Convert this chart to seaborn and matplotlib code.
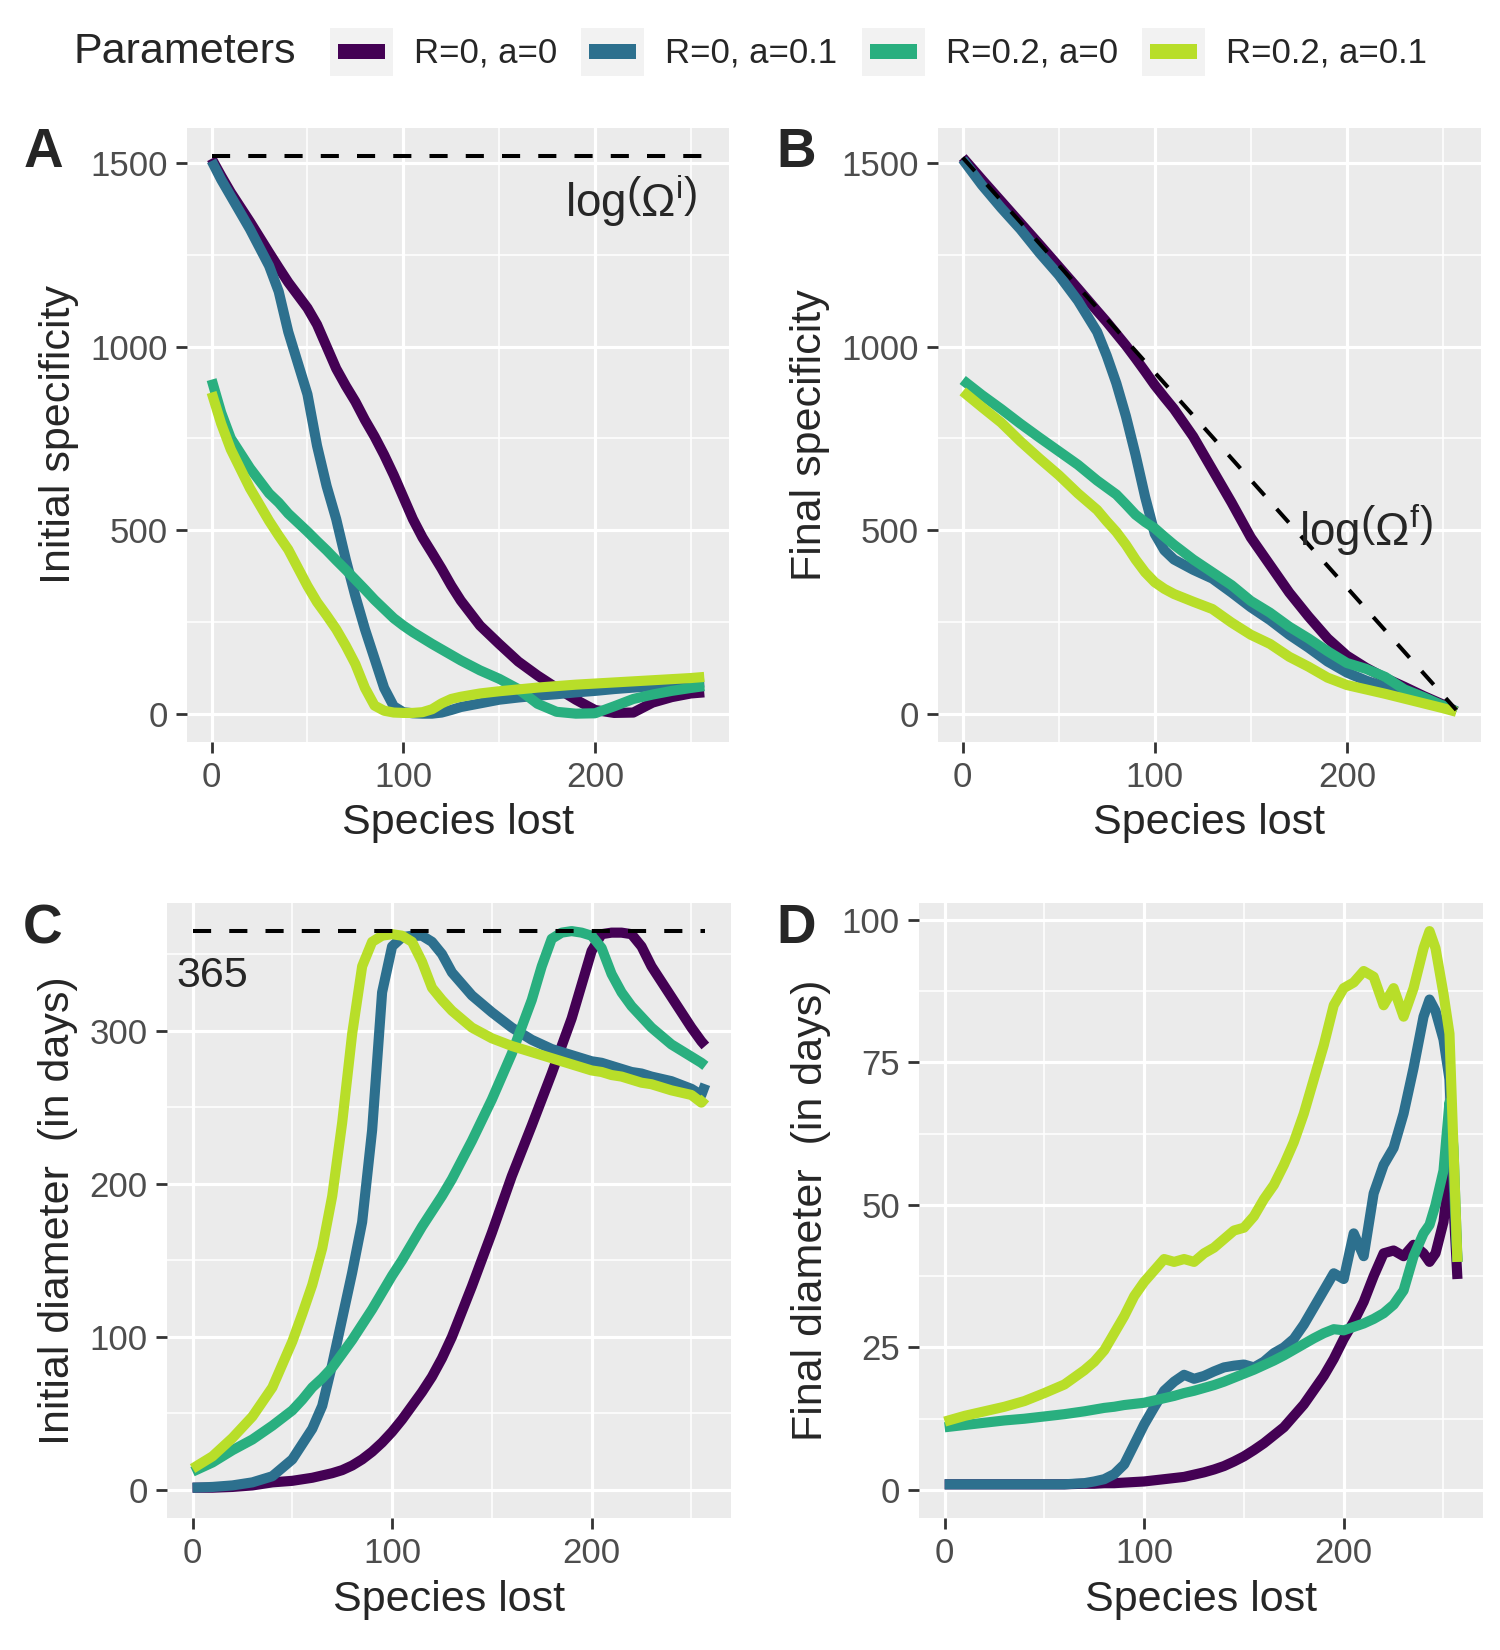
import matplotlib
matplotlib.use("Agg")
import pandas as pd
import seaborn as sns
import matplotlib.pyplot as plt
from matplotlib.lines import Line2D
from matplotlib.patches import Rectangle
from matplotlib.legend_handler import HandlerBase

labels = ["R=0, a=0", "R=0, a=0.1", "R=0.2, a=0", "R=0.2, a=0.1"]
colors = ["#440154", "#2D708E", "#29AF7F", "#B8DE29"]

# panel A - initial specificity
x_a = [0, 5, 10, 20, 30, 35, 40, 50, 55, 60, 65, 70, 75, 80, 85, 90, 95,
       100, 105, 110, 115, 120, 125, 130, 140, 150, 160, 170, 180, 190,
       200, 210, 220, 230, 240, 250, 257]
a_r0_a0 = [1512, 1465, 1420, 1340, 1256, 1215, 1175, 1105, 1060, 1000, 940, 893, 850, 800, 755, 705, 650,
           590, 530, 480, 438, 395, 349, 308, 240, 190, 142, 104, 70, 38,
           10, 2, 3, 30, 45, 55, 58]
a_r0_a01 = [1506, 1455, 1410, 1320, 1220, 1150, 1040, 870, 730, 620, 530, 420, 320, 230, 150, 70, 20,
            4, 1, 0, 0, 3, 10, 18, 28, 38, 44, 49, 53, 58,
            62, 67, 71, 75, 79, 83, 85]
a_r02_a0 = [910, 820, 750, 669, 600, 575, 545, 496, 470, 445, 418, 392, 365, 338, 310, 285, 260,
            240, 222, 206, 190, 175, 160, 145, 118, 95, 67, 27, 5, 0,
            1, 20, 40, 52, 62, 70, 75]
a_r02_a01 = [875, 790, 720, 614, 525, 485, 447, 348, 304, 268, 230, 185, 135, 70, 22, 8, 3,
             2, 2, 4, 12, 28, 40, 46, 55, 61, 66, 71, 75, 79,
             82, 85, 88, 91, 94, 97, 100]
a_ref_x = [0, 257]
a_ref_y = [1520, 1520]

# panel B - final specificity
x_b = [0, 10, 20, 30, 40, 50, 60, 70, 75, 80, 85, 90, 95, 100, 105, 110,
       120, 130, 140, 150, 160, 170, 180, 190, 200, 210, 220, 230, 240, 250, 257]
b_r0_a0 = [1515, 1455, 1396, 1337, 1278, 1218, 1158, 1097, 1067, 1035, 1003, 968, 932, 895, 862, 830,
           755, 665, 575, 480, 405, 330, 265, 205, 158, 125, 97, 73, 48, 25, 6]
b_r0_a01 = [1510, 1440, 1378, 1320, 1255, 1195, 1125, 1040, 975, 900, 810, 705, 590, 490, 445, 420,
            392, 368, 330, 290, 255, 215, 180, 142, 112, 90, 72, 55, 38, 22, 6]
b_r02_a0 = [909, 868, 830, 790, 752, 715, 678, 635, 616, 597, 570, 542, 522, 505, 482, 460,
            420, 385, 350, 307, 275, 237, 205, 170, 138, 122, 100, 66, 45, 22, 6]
b_r02_a01 = [878, 835, 793, 742, 695, 650, 600, 555, 524, 495, 460, 420, 385, 358, 340, 326,
             305, 285, 248, 215, 190, 155, 128, 98, 78, 66, 54, 41, 28, 15, 5]
b_ref_x = [0, 257]
b_ref_y = [1515, 10]

# panel C - initial diameter
x_c = [0, 10, 20, 30, 40, 50, 55, 60, 65, 70, 75, 80, 85, 90, 95,
       100, 105, 110, 115, 120, 125, 130, 140, 150, 160, 170,
       175, 180, 185, 190, 195, 200, 205, 210, 215, 220, 225, 230, 240, 250, 255, 257]
c_r0_a0 = [1.5, 1.5, 2, 3, 5, 6, 7, 8, 9.5, 11, 13, 16, 20, 25, 31,
           38, 46, 55, 64, 74, 86, 100, 133, 168, 205, 238,
           255, 272, 290, 308, 330, 352, 363, 364, 364, 363, 355, 342, 322, 302, 293, 290]
c_r0_a01 = [1.5, 2, 3, 5, 9, 20, 30, 40, 55, 82, 112, 142, 175, 235, 325,
            355, 361, 362, 362, 358, 350, 338, 323, 312, 302, 294,
            291, 288, 286, 284, 282, 280, 279, 277, 275, 273, 272, 270, 267, 262, 258, 265]
c_r02_a0 = [12, 18, 26, 33, 42, 52, 59, 67, 73, 80, 89, 98, 108, 118, 129,
            140, 150, 161, 172, 182, 192, 203, 228, 255, 285, 320,
            342, 360, 364, 365, 364, 362, 354, 337, 325, 316, 309, 302, 291, 283, 279, 277]
c_r02_a01 = [14, 22, 34, 48, 67, 97, 115, 134, 158, 192, 240, 298, 342, 358, 362,
             363, 362, 358, 345, 328, 320, 313, 302, 295, 290, 286,
             284, 282, 280, 278, 276, 274, 273, 271, 270, 268, 266, 265, 261, 258, 253, 256]
c_ref_x = [0, 257]
c_ref_y = [365, 365]

# panel D - final diameter
x_d = [0, 10, 20, 30, 40, 50, 60, 70, 75, 80, 85, 90, 95, 100,
       105, 110, 115, 120, 125, 130, 135, 140, 145, 150, 155, 160, 165, 170, 175, 180,
       185, 190, 195, 200, 205, 210, 215, 220, 225, 230, 235, 240,
       243, 246, 250, 253, 255, 257]
d_r0_a0 = [1, 1, 1, 1, 1, 1, 1, 1.1, 1.1, 1.2, 1.2, 1.3, 1.4, 1.5,
           1.7, 1.9, 2.1, 2.3, 2.7, 3.1, 3.6, 4.2, 5, 5.9, 7, 8.2, 9.6, 11, 13, 15,
           17.5, 20, 23, 26.5, 29.5, 33, 37.5, 41.5, 42, 41, 43, 41.5,
           40, 41.5, 47, 56, 50, 37]
d_r0_a01 = [1, 1, 1, 1, 1, 1, 1, 1.2, 1.5, 1.9, 2.8, 4.5, 8, 11.5,
            14.5, 17.4, 19, 20.2, 19.5, 20, 20.8, 21.5, 21.8, 22, 21.5, 22.5, 24, 25, 26.5, 29,
            32, 35, 38, 37, 45, 41, 52, 57, 60, 66, 74, 83,
            86, 84, 79, 72, 55, 40]
d_r02_a0 = [11, 11.4, 11.8, 12.2, 12.5, 12.9, 13.3, 13.8, 14.1, 14.4, 14.6, 14.9, 15.1, 15.3,
            15.7, 16.1, 16.5, 17, 17.4, 17.9, 18.4, 19, 19.7, 20.4, 21.1, 21.9, 22.7, 23.6, 24.6, 25.6,
            26.6, 27.5, 28.2, 28, 28.6, 29.2, 30, 31, 32.5, 35, 41, 45,
            46.5, 50, 56, 68, 60, 40]
d_r02_a01 = [12, 13, 13.8, 14.6, 15.6, 17, 18.5, 21, 22.5, 24.5, 27.5, 30.5, 34, 36.5,
             38.5, 40.5, 40, 40.5, 40, 41.5, 42.5, 44, 45.5, 46, 48, 51, 53.5, 57, 61, 66,
             72, 78, 85, 88, 89, 91, 90, 85, 88, 83, 88, 95,
             98, 95, 87, 80, 60, 40]


def long_df(x, values):
    parts = []
    for lab, vals in zip(labels, values):
        parts.append(pd.DataFrame({"lost": x, "value": vals, "Parameters": lab}))
    return pd.concat(parts, ignore_index=True)


df_a = long_df(x_a, [a_r0_a0, a_r0_a01, a_r02_a0, a_r02_a01])
df_b = long_df(x_b, [b_r0_a0, b_r0_a01, b_r02_a0, b_r02_a01])
df_c = long_df(x_c, [c_r0_a0, c_r0_a01, c_r02_a0, c_r02_a01])
df_d = long_df(x_d, [d_r0_a0, d_r0_a01, d_r02_a0, d_r02_a01])

sns.set_theme(style="darkgrid", rc={
    "axes.facecolor": "#EBEBEB",
    "grid.color": "white",
    "axes.edgecolor": "none",
})
plt.rcParams["font.family"] = ["Liberation Sans", "DejaVu Sans"]
plt.rcParams["mathtext.fontset"] = "custom"
plt.rcParams["mathtext.rm"] = "Liberation Sans"
plt.rcParams["mathtext.it"] = "Liberation Sans:italic"

palette = dict(zip(labels, colors))

fig = plt.figure(figsize=(15, 16.5), dpi=100)
W, H = 1420, 1562
ax_a = fig.add_axes([177 / W, 1 - 702 / H, 513 / W, 581 / H])
ax_b = fig.add_axes([888 / W, 1 - 702 / H, 514 / W, 581 / H])
ax_c = fig.add_axes([158 / W, 1 - 1437 / H, 534 / W, 582 / H])
ax_d = fig.add_axes([870 / W, 1 - 1437 / H, 534 / W, 582 / H])

panels = [
    (ax_a, df_a, "Initial specificity", (-76, 1596), [0, 500, 1000, 1500], [250, 750, 1250]),
    (ax_b, df_b, "Final specificity", (-76, 1596), [0, 500, 1000, 1500], [250, 750, 1250]),
    (ax_c, df_c, "Initial diameter  (in days)", (-18.25, 383.25), [0, 100, 200, 300], [50, 150, 250, 350]),
    (ax_d, df_d, "Final diameter  (in days)", (-4.9, 102.9), [0, 25, 50, 75, 100], [12.5, 37.5, 62.5, 87.5]),
]

for ax, df, ylab, ylim, yt, ytm in panels:
    sns.lineplot(data=df, x="lost", y="value", hue="Parameters", hue_order=labels,
                 palette=palette, estimator=None, errorbar=None, sort=False,
                 linewidth=7.3, legend=False, ax=ax,
                 solid_capstyle="butt", solid_joinstyle="round")
    ax.set_xlim(-12.85, 269.85)
    ax.set_ylim(*ylim)
    ax.set_xticks([0, 100, 200])
    ax.set_xticks([50, 150, 250], minor=True)
    ax.set_yticks(yt)
    ax.set_yticks(ytm, minor=True)
    ax.grid(which="major", color="white", linewidth=2.3)
    ax.grid(which="minor", color="white", linewidth=1.1)
    ax.set_axisbelow(True)
    ax.tick_params(which="major", length=7.8, width=2, color="#333333",
                   labelsize=25, labelcolor="#4D4D4D", pad=6, left=True, bottom=True)
    ax.tick_params(which="minor", length=0)
    ax.set_xlabel("Species lost", fontsize=31, labelpad=7)
    ax.set_ylabel(ylab, fontsize=31, labelpad=8)
    for s in ax.spines.values():
        s.set_visible(False)

dash = dict(color="black", linewidth=2.9, dashes=(4.5, 4.5), zorder=5)
ax_a.plot(a_ref_x, a_ref_y, **dash)
ax_b.plot(b_ref_x, b_ref_y, **dash)
ax_c.plot(c_ref_x, c_ref_y, **dash)

ax_a.text(219, 1395, r"$\mathrm{log}\left(\Omega^{\mathrm{i}}\right)$", fontsize=33,
          ha="center", va="center", zorder=6)
ax_b.text(210, 500, r"$\mathrm{log}\left(\Omega^{\mathrm{f}}\right)$", fontsize=33,
          ha="center", va="center", zorder=6)
ax_c.text(10, 336, "365", fontsize=31, ha="center", va="center", zorder=6)

for lab, x, y in [("A", 22, 120), ("B", 735, 120), ("C", 22, 855), ("D", 735, 855)]:
    fig.text(x / W, 1 - y / H, lab, fontsize=39.5, fontweight="bold", ha="left", va="top")


class KeyHandler(HandlerBase):
    def create_artists(self, legend, orig_handle, xdescent, ydescent, width, height, fontsize, trans):
        bg = Rectangle((-xdescent, -ydescent), width, height, facecolor="#F2F2F2",
                       edgecolor="none", transform=trans)
        fg = Rectangle((-xdescent + 0.13 * width, -ydescent + 0.34 * height), 0.74 * width,
                       0.32 * height, facecolor=orig_handle.get_color(), edgecolor="none",
                       transform=trans)
        return [bg, fg]


handles = [Line2D([], [], color=c) for c in colors]
fig.text(70 / W, 1 - 49 / H, "Parameters", fontsize=31, ha="left", va="center")
fig.legend(handles, labels, loc="center left", bbox_to_anchor=(312 / W, 1 - 49 / H),
           ncol=4, frameon=False, fontsize=25, borderpad=0, borderaxespad=0,
           handlelength=1.82, handleheight=1.76, handletextpad=0.6, columnspacing=0.7,
           handler_map={Line2D: KeyHandler()})

fig.savefig("out.png", dpi=100)
